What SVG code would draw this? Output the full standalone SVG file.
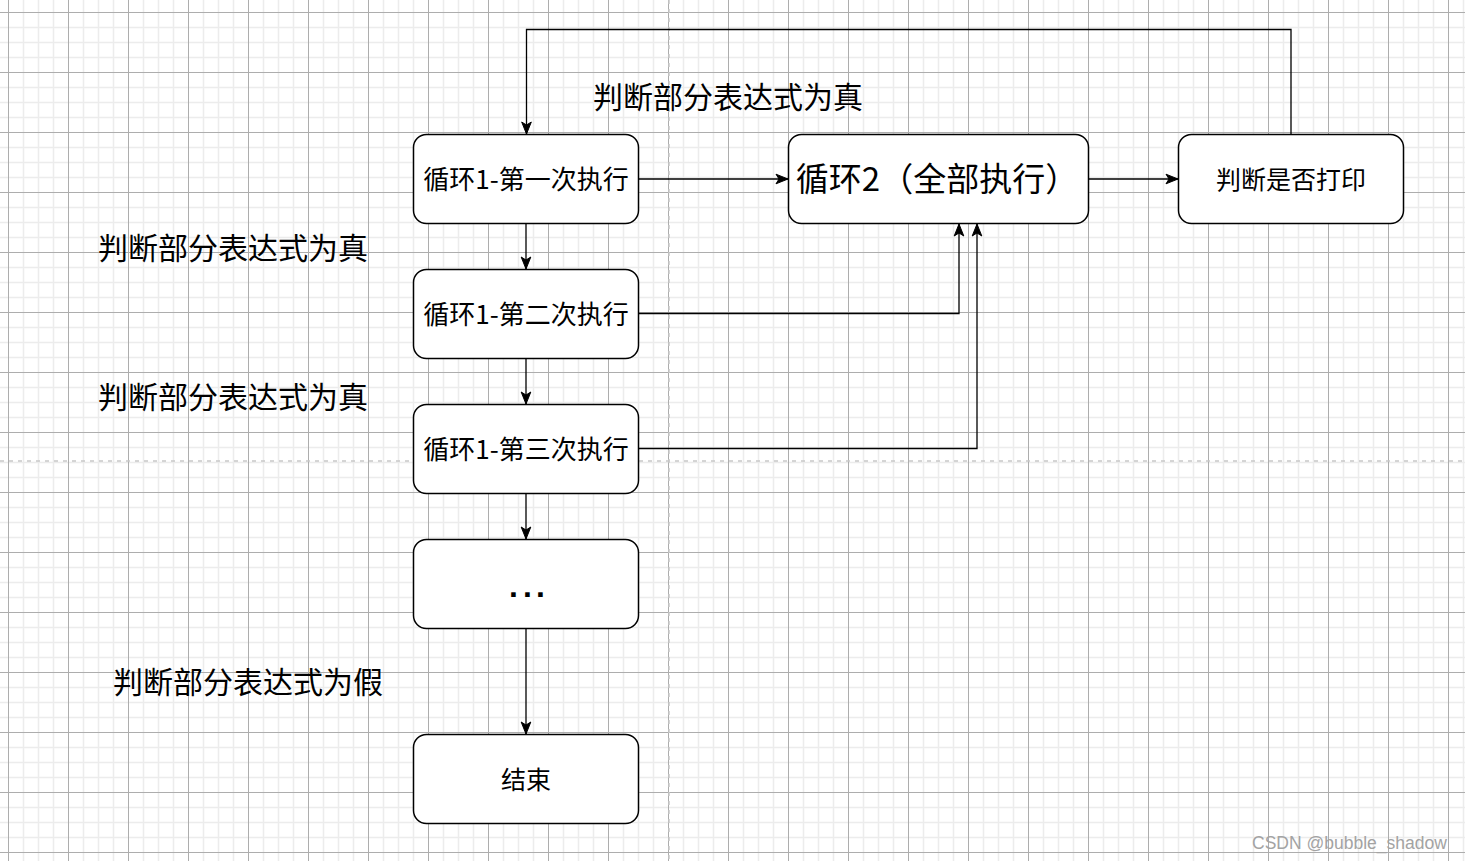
<svg xmlns="http://www.w3.org/2000/svg" width="1465" height="861" viewBox="0 0 1465 861">
<defs>
<pattern id="grid" patternUnits="userSpaceOnUse" x="8" y="12" width="60" height="60">
<path d="M15.5 0V60M30.5 0V60M45.5 0V60M0 15.5H60M0 30.5H60M0 45.5H60" stroke="#ececec" stroke-width="1.5" fill="none"/>
<path d="M0.5 0V60M0 0.5H60" stroke="#adadad" stroke-width="1" fill="none"/>
</pattern>
<marker id="arr" markerUnits="userSpaceOnUse" markerWidth="14" markerHeight="14" viewBox="0 0 14 14" refX="13" refY="7" orient="auto">
<path d="M1,2.2 L13,7 L1,11.8 L4,7 Z" fill="#000" stroke="#000" stroke-width="1"/>
</marker>
<style>
.node rect{fill:#fff;stroke:#000;stroke-width:1.5}
.t{font-family:"Noto Sans CJK SC","Noto Sans",sans-serif;fill:#000;text-anchor:middle}
.lbl{font-family:"Noto Sans CJK SC",sans-serif;fill:#000;font-size:30px}
.edge{fill:none;stroke:#000;stroke-width:1.3;marker-end:url(#arr)}
</style>
</defs>
<rect width="1465" height="861" fill="#fff"/>
<rect width="1465" height="861" fill="url(#grid)"/>
<g id="guides" stroke="#c8c8c8" stroke-width="1.5" stroke-dasharray="4 5" fill="none">
<path d="M0 461H1465"/>
<path d="M669 0V861"/>
</g>
<g id="connectors">
<path class="edge" d="M526 224V269"/>
<path class="edge" d="M526 359V404"/>
<path class="edge" d="M526 494V539"/>
<path class="edge" d="M526 629V734"/>
<path class="edge" d="M639 179H788"/>
<path class="edge" d="M1089 179H1178"/>
<path class="edge" d="M1291 134V29.5H526.5V134"/>
<path class="edge" d="M639 313.5H959V224"/>
<path class="edge" d="M639 448.5H977V224"/>
</g>
<g id="n1" class="node"><rect x="413.5" y="134.5" width="225" height="89" rx="13"/><text class="t" x="526" y="188.5" font-size="26">循环1-第一次执行</text></g>
<g id="n2" class="node"><rect x="413.5" y="269.5" width="225" height="89" rx="13"/><text class="t" x="526" y="323.5" font-size="26">循环1-第二次执行</text></g>
<g id="n3" class="node"><rect x="413.5" y="404.5" width="225" height="89" rx="13"/><text class="t" x="526" y="458.5" font-size="26">循环1-第三次执行</text></g>
<g id="n4" class="node"><rect x="413.5" y="539.5" width="225" height="89" rx="13"/><text x="509 523 536" y="596.5" font-size="32" font-weight="bold" font-family="Liberation Sans, sans-serif">...</text></g>
<g id="n5" class="node"><rect x="413.5" y="734.5" width="225" height="89" rx="13"/><text class="t" x="526" y="788.5" font-size="25">结束</text></g>
<g id="loop2" class="node"><rect x="788.5" y="134.5" width="300" height="89" rx="13"/><text class="t" x="937" y="191" font-size="33">循环2（全部执行）</text></g>
<g id="print" class="node"><rect x="1178.5" y="134.5" width="225" height="89" rx="13"/><text class="t" x="1291" y="188.5" font-size="25">判断是否打印</text></g>
<g id="labels">
<text class="lbl" x="593" y="108">判断部分表达式为真</text>
<text class="lbl" x="98" y="259">判断部分表达式为真</text>
<text class="lbl" x="98" y="408">判断部分表达式为真</text>
<text class="lbl" x="113" y="693">判断部分表达式为假</text>
</g>
<text id="watermark" x="1252" y="849" font-family="Liberation Sans, sans-serif" font-size="17.5" fill="#a3a3a3">CSDN @bubble_shadow</text>
</svg>
